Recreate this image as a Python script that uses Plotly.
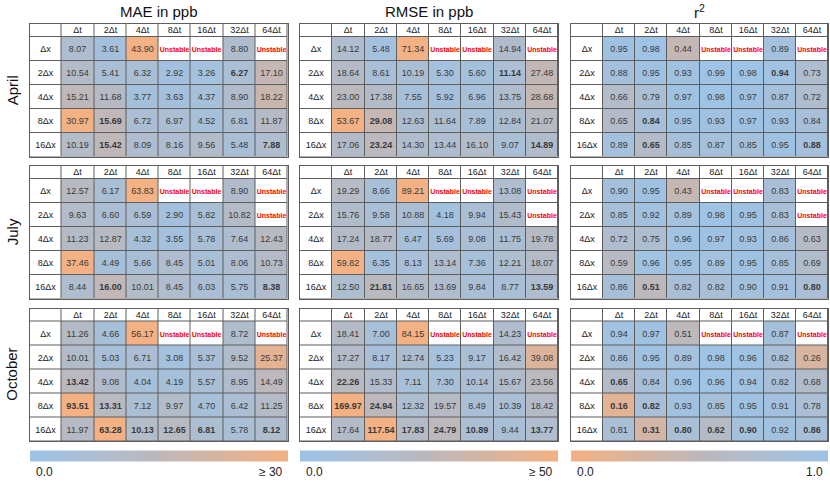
import plotly.graph_objects as go
from plotly.subplots import make_subplots

# table labels
col_labels = ["Δt", "2Δt", "4Δt", "8Δt", "16Δt", "32Δt", "64Δt"]
row_labels = ["Δx", "2Δx", "4Δx", "8Δx", "16Δx"]
months = ["April", "July", "October"]
metrics = ["MAE in ppb", "RMSE in ppb", "r<sup>2</sup>"]
U = None  # unstable run

# April
mae_april = [[8.07, 3.61, 43.90, U, U, 8.80, U],
             [10.54, 5.41, 6.32, 2.92, 3.26, 6.27, 17.10],
             [15.21, 11.68, 3.77, 3.63, 4.37, 8.90, 18.22],
             [30.97, 15.69, 6.72, 6.97, 4.52, 6.81, 11.87],
             [10.19, 15.42, 8.09, 8.16, 9.56, 5.48, 7.88]]
rmse_april = [[14.12, 5.48, 71.34, U, U, 14.94, U],
              [18.64, 8.61, 10.19, 5.30, 5.60, 11.14, 27.48],
              [23.00, 17.38, 7.55, 5.92, 6.96, 13.75, 28.68],
              [53.67, 29.08, 12.63, 11.64, 7.89, 12.84, 21.07],
              [17.06, 23.24, 14.30, 13.44, 16.10, 9.07, 14.89]]
r2_april = [[0.95, 0.98, 0.44, U, U, 0.89, U],
            [0.88, 0.95, 0.93, 0.99, 0.98, 0.94, 0.73],
            [0.66, 0.79, 0.97, 0.98, 0.97, 0.87, 0.72],
            [0.65, 0.84, 0.95, 0.93, 0.97, 0.93, 0.84],
            [0.89, 0.65, 0.85, 0.87, 0.85, 0.95, 0.88]]

# July
mae_july = [[12.57, 6.17, 63.83, U, U, 8.90, U],
            [9.63, 6.60, 6.59, 2.90, 5.82, 10.82, U],
            [11.23, 12.87, 4.32, 3.55, 5.78, 7.64, 12.43],
            [37.46, 4.49, 5.66, 8.45, 5.01, 8.06, 10.73],
            [8.44, 16.00, 10.01, 8.45, 6.03, 5.75, 8.38]]
rmse_july = [[19.29, 8.66, 89.21, U, U, 13.08, U],
             [15.76, 9.58, 10.88, 4.18, 9.94, 15.43, U],
             [17.24, 18.77, 6.47, 5.69, 9.08, 11.75, 19.78],
             [59.82, 6.35, 8.13, 13.14, 7.36, 12.21, 18.07],
             [12.50, 21.81, 16.65, 13.69, 9.84, 8.77, 13.59]]
r2_july = [[0.90, 0.95, 0.43, U, U, 0.83, U],
           [0.85, 0.92, 0.89, 0.98, 0.95, 0.83, U],
           [0.72, 0.75, 0.96, 0.97, 0.93, 0.86, 0.63],
           [0.59, 0.96, 0.95, 0.89, 0.95, 0.85, 0.69],
           [0.86, 0.51, 0.82, 0.82, 0.90, 0.91, 0.80]]

# October
mae_october = [[11.26, 4.66, 56.17, U, U, 8.72, U],
               [10.01, 5.03, 6.71, 3.08, 5.37, 9.52, 25.37],
               [13.42, 9.08, 4.04, 4.19, 5.57, 8.95, 14.49],
               [93.51, 13.31, 7.12, 9.97, 4.70, 6.42, 11.25],
               [11.97, 63.28, 10.13, 12.65, 6.81, 5.78, 8.12]]
rmse_october = [[18.41, 7.00, 84.15, U, U, 14.23, U],
                [17.27, 8.17, 12.74, 5.23, 9.17, 16.42, 39.08],
                [22.26, 15.33, 7.11, 7.30, 10.14, 15.67, 23.56],
                [169.97, 24.94, 12.32, 19.57, 8.49, 10.39, 18.42],
                [17.64, 117.54, 17.83, 24.79, 10.89, 9.44, 13.77]]
r2_october = [[0.94, 0.97, 0.51, U, U, 0.87, U],
              [0.86, 0.95, 0.89, 0.98, 0.96, 0.82, 0.26],
              [0.65, 0.84, 0.96, 0.96, 0.94, 0.82, 0.68],
              [0.16, 0.82, 0.93, 0.85, 0.95, 0.91, 0.78],
              [0.81, 0.31, 0.80, 0.62, 0.90, 0.92, 0.86]]

# cells printed in bold, (row, col), same for every metric of a month
bold_april = [(1, 5), (3, 1), (4, 1), (4, 6)]
bold_july = [(4, 1), (4, 6)]
bold_october = [(2, 0), (3, 0), (3, 1), (4, 1), (4, 2), (4, 3), (4, 4), (4, 6)]

tables = [[mae_april, rmse_april, r2_april],
          [mae_july, rmse_july, r2_july],
          [mae_october, rmse_october, r2_october]]
bolds = [bold_april, bold_july, bold_october]

# colour scale limits per metric
zmax = [30, 50, 1]
reverse = [False, False, True]
bar_right = ["≥ 30", "≥ 50", "1.0"]
scale = [[0, "#9dc3e6"], [0.5, "#bdb8bb"], [1, "#f4b183"]]

# page geometry in pixels
W, H = 830, 489
col_x = [(29.5, 287.5), (300, 558), (571, 828)]
row_top = [24, 166, 308.5]
hdr_h, row_h = 12.5, 24
tbl_h = hdr_h + 5 * row_h
bar_y = 455.5

x_edges = list(range(9))
y_edges = [0, hdr_h] + [hdr_h + row_h * (i + 1) for i in range(5)]

cell_font = "Liberation Sans, Arial"
unstable = "<span style='color:#ff0000;font-size:7px'><b>Unstable</b></span>"

fig = make_subplots(rows=3, cols=3)

for i, month in enumerate(months):
    for j in range(3):
        vals = tables[i][j]
        # white cells: header, row labels and unstable runs
        wz = [[0] * 8]
        wt = [[""] + col_labels]
        dz = [[None] * 8]
        dt = [[""] * 8]
        for r in range(5):
            wz.append([0] + [0 if v is None else None for v in vals[r]])
            wt.append([row_labels[r]] + [unstable if v is None else "" for v in vals[r]])
            dz.append([None] + vals[r])
            txt = [""]
            for c, v in enumerate(vals[r]):
                if v is None:
                    txt.append("")
                elif (r, c) in bolds[i]:
                    txt.append("<b>%.2f</b>" % v)
                else:
                    txt.append("%.2f" % v)
            dt.append(txt)

        fig.add_trace(go.Heatmap(
            x=x_edges, y=y_edges, z=wz, text=wt, texttemplate="%{text}",
            textfont=dict(family=cell_font, size=9, color="#222222"),
            colorscale=[[0, "white"], [1, "white"]], zmin=0, zmax=1,
            showscale=False, xgap=1, ygap=1, hoverinfo="skip"),
            row=i + 1, col=j + 1)

        cb = dict(orientation="h", x=(col_x[j][0] + col_x[j][1]) / 2 / W, xanchor="center",
                  y=1 - bar_y / H, yanchor="middle", len=col_x[j][1] - col_x[j][0],
                  lenmode="pixels", thickness=11, outlinewidth=0, showticklabels=False,
                  ticks="", xpad=0, ypad=0)
        fig.add_trace(go.Heatmap(
            x=x_edges, y=y_edges, z=dz, text=dt, texttemplate="%{text}",
            textfont=dict(family=cell_font, size=9, color="#3a3a3a"),
            colorscale=scale, reversescale=reverse[j], zmin=0, zmax=zmax[j],
            showscale=(i == 2), colorbar=cb, xgap=1, ygap=1,
            hovertemplate="%{z}<extra></extra>"),
            row=i + 1, col=j + 1)

        k = i * 3 + j + 1
        top = row_top[i]
        fig.update_layout({
            "xaxis%d" % k: dict(domain=[col_x[j][0] / W, col_x[j][1] / W], range=[0, 8],
                                showgrid=False, zeroline=False, showticklabels=False,
                                showline=True, mirror=True, linecolor="#5e5e5e", linewidth=1),
            "yaxis%d" % k: dict(domain=[1 - (top + tbl_h) / H, 1 - top / H], range=[tbl_h, 0],
                                showgrid=False, zeroline=False, showticklabels=False,
                                showline=True, mirror=True, linecolor="#5e5e5e", linewidth=1),
        })

# column titles and colour bar labels
lab_font = dict(family="Liberation Sans, Arial", size=12, color="#222222")
for j, m in enumerate(metrics):
    fig.add_annotation(text=m, x=(col_x[j][0] + col_x[j][1]) / 2 / W, y=1 - 11 / H,
                       xref="paper", yref="paper", showarrow=False,
                       xanchor="center", yanchor="middle",
                       font=dict(family="Liberation Sans, Arial", size=15, color="#111111"))
    fig.add_annotation(text="0.0", x=(col_x[j][0] + 4) / W, y=1 - 472 / H,
                       xanchor="left", yanchor="middle",
                       xref="paper", yref="paper", showarrow=False, font=lab_font)
    fig.add_annotation(text=bar_right[j], x=(col_x[j][1] - 3) / W, y=1 - 472 / H,
                       xanchor="right", yanchor="middle",
                       xref="paper", yref="paper", showarrow=False, font=lab_font)

# month labels on the left
for i, month in enumerate(months):
    fig.add_annotation(text=month, x=12 / W, y=1 - (row_top[i] + tbl_h / 2) / H,
                       xref="paper", yref="paper", showarrow=False, textangle=-90,
                       xanchor="center", yanchor="middle",
                       font=dict(family="Liberation Sans, Arial", size=15, color="#111111"))

fig.update_layout(width=W, height=H, margin=dict(l=0, r=0, t=0, b=0),
                  plot_bgcolor="#5e5e5e", paper_bgcolor="white", showlegend=False)

# page body has a default margin, drop it so the figure fills the window
fig.write_html("out.html", config={"displayModeBar": False},
               post_script="document.body.style.margin='0';")
